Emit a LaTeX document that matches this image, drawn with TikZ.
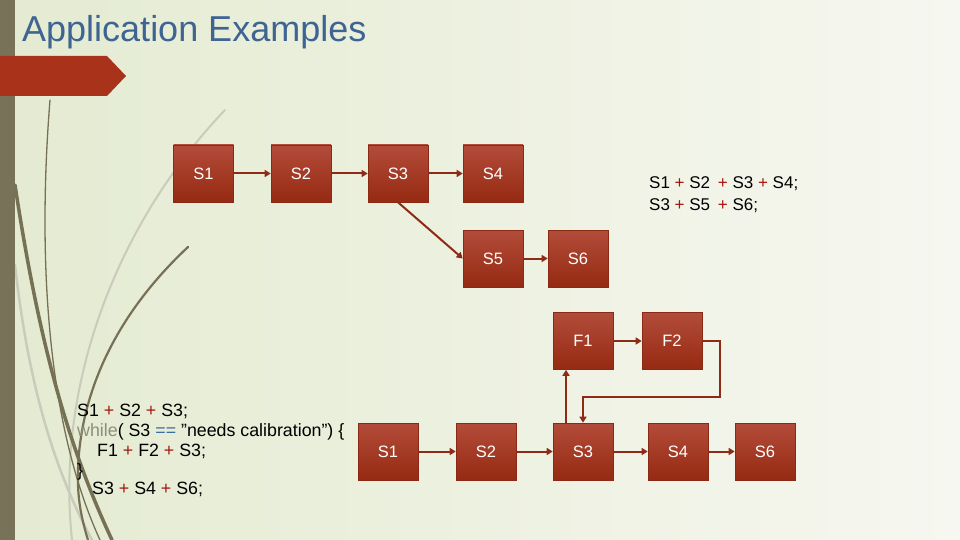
\documentclass[tikz,border=0pt]{standalone}
\usepackage{fontspec}
\setmainfont{Liberation Sans}
\usetikzlibrary{arrows.meta}
\definecolor{bgL}{HTML}{E4EBD1}
\definecolor{bgR}{HTML}{F6F7F0}
\definecolor{barc}{HTML}{787259}
\definecolor{bannerc}{HTML}{A8321A}
\definecolor{titlec}{HTML}{3E6492}
\definecolor{boxtop}{HTML}{B24C3A}
\definecolor{boxbot}{HTML}{962A12}
\definecolor{boxline}{HTML}{8A2A14}
\definecolor{arrc}{HTML}{8E2B16}
\definecolor{plusc}{HTML}{A3160E}
\definecolor{eqc}{HTML}{3A6E9E}
\definecolor{kwc}{HTML}{8E8E78}
\definecolor{swdark}{HTML}{767055}
\definecolor{swlight}{HTML}{C9CCBA}
\tikzset{
  sbox/.style={draw=boxline, line width=0.6pt, top color=boxtop, bottom color=boxbot,
    minimum width=60pt, minimum height=57pt, inner sep=0pt, text=white,
    font=\fontsize{16.5}{19}\selectfont},
  conn/.style={draw=arrc, line width=2pt, -{Triangle[length=6pt,width=7pt]}},
  codet/.style={anchor=base west, inner sep=0pt, font=\fontsize{17.8}{20}\selectfont, text=black},
  swd/.style={draw=swdark, line cap=round},
  swl/.style={draw=swlight, line cap=round}
}
\newcommand{\pl}{\textcolor{plusc}{+}}
\begin{document}
\begin{tikzpicture}[x=1pt,y=-1pt]
\useasboundingbox (0,0) rectangle (960,540);
\shade[left color=bgL, right color=bgR] (0,0) rectangle (960,540);
% decorative swooshes
\draw[swl, line width=2pt] (225,110) .. controls (120,220) and (55,380) .. (72,540);
\draw[swl, line width=2.5pt] (15,265) .. controls (30,400) and (60,480) .. (92,540);
\draw[swd, line width=1.3pt] (50,100) .. controls (38,250) and (45,420) .. (100,540);
\draw[swd, line width=3.5pt] (15,185) .. controls (40,350) and (70,450) .. (112,540);
\draw[swd, line width=2.2pt] (188,247) .. controls (110,320) and (80,400) .. (78,470) .. controls (77,500) and (82,520) .. (88,540);
% left bar
\fill[barc] (0,0) rectangle (15,540);
% banner
\fill[bannerc] (0,56) -- (107,56) -- (126,76) -- (107,96) -- (0,96) -- cycle;
% title
\node[anchor=base west, inner sep=0pt, text=titlec, font=\fontsize{36}{40}\selectfont] (title) at (22,42) {Application Examples};
% top diagram
\node[sbox] (a1) at (203.5,173.5) {S1};
\node[sbox] (a2) at (301,173.5) {S2};
\node[sbox] (a3) at (398,173.5) {S3};
\node[sbox] (a4) at (493,173.5) {S4};
\node[sbox] (a5) at (493,258.5) {S5};
\node[sbox] (a6) at (578,258.5) {S6};
\draw[conn] (a1) -- (a2);
\draw[conn] (a2) -- (a3);
\draw[conn] (a3) -- (a4);
\draw[conn] (a3.south) -- (a5.west);
\draw[conn] (a5) -- (a6);
\node[codet, font=\fontsize{17}{19}\selectfont] (t1) at (649,188) {S1 \pl{} S2\hspace{3pt} \pl{} S3 \pl{} S4;};
\node[codet, font=\fontsize{17}{19}\selectfont] (t2) at (649,210) {S3 \pl{} S5\hspace{3pt} \pl{} S6;};
% bottom diagram
\node[sbox] (f1) at (583,341) {F1};
\node[sbox] (f2) at (672,341) {F2};
\node[sbox] (b1) at (388,451.5) {S1};
\node[sbox] (b2) at (486,451.5) {S2};
\node[sbox] (b3) at (583,451.5) {S3};
\node[sbox] (b4) at (678,451.5) {S4};
\node[sbox] (b6) at (765,451.5) {S6};
\draw[conn] (b1) -- (b2);
\draw[conn] (b2) -- (b3);
\draw[conn] (b3) -- (b4);
\draw[conn] (b4) -- (b6);
\draw[conn] (f1) -- (f2);
\draw[conn] ([xshift=-17pt]b3.north) -- ([xshift=-17pt]f1.south);
\draw[conn] (f2.east) -- (720,341) -- (720,397) -- (583,397) -- (b3.north);
% code
\node[codet] (c1) at (77,416) {S1 \pl{} S2 \pl{} S3;};
\node[codet] (c2) at (77,436) {\textcolor{kwc}{while}( S3 \textcolor{eqc}{==} ”needs calibration") \{};
\node[codet] (c3) at (97,456) {F1 \pl{} F2 \pl{} S3;};
\node[codet] (c4) at (77,476) {\}};
\node[codet] (c5) at (92,494) {S3 \pl{} S4 \pl{} S6;};
\end{tikzpicture}
\end{document}
